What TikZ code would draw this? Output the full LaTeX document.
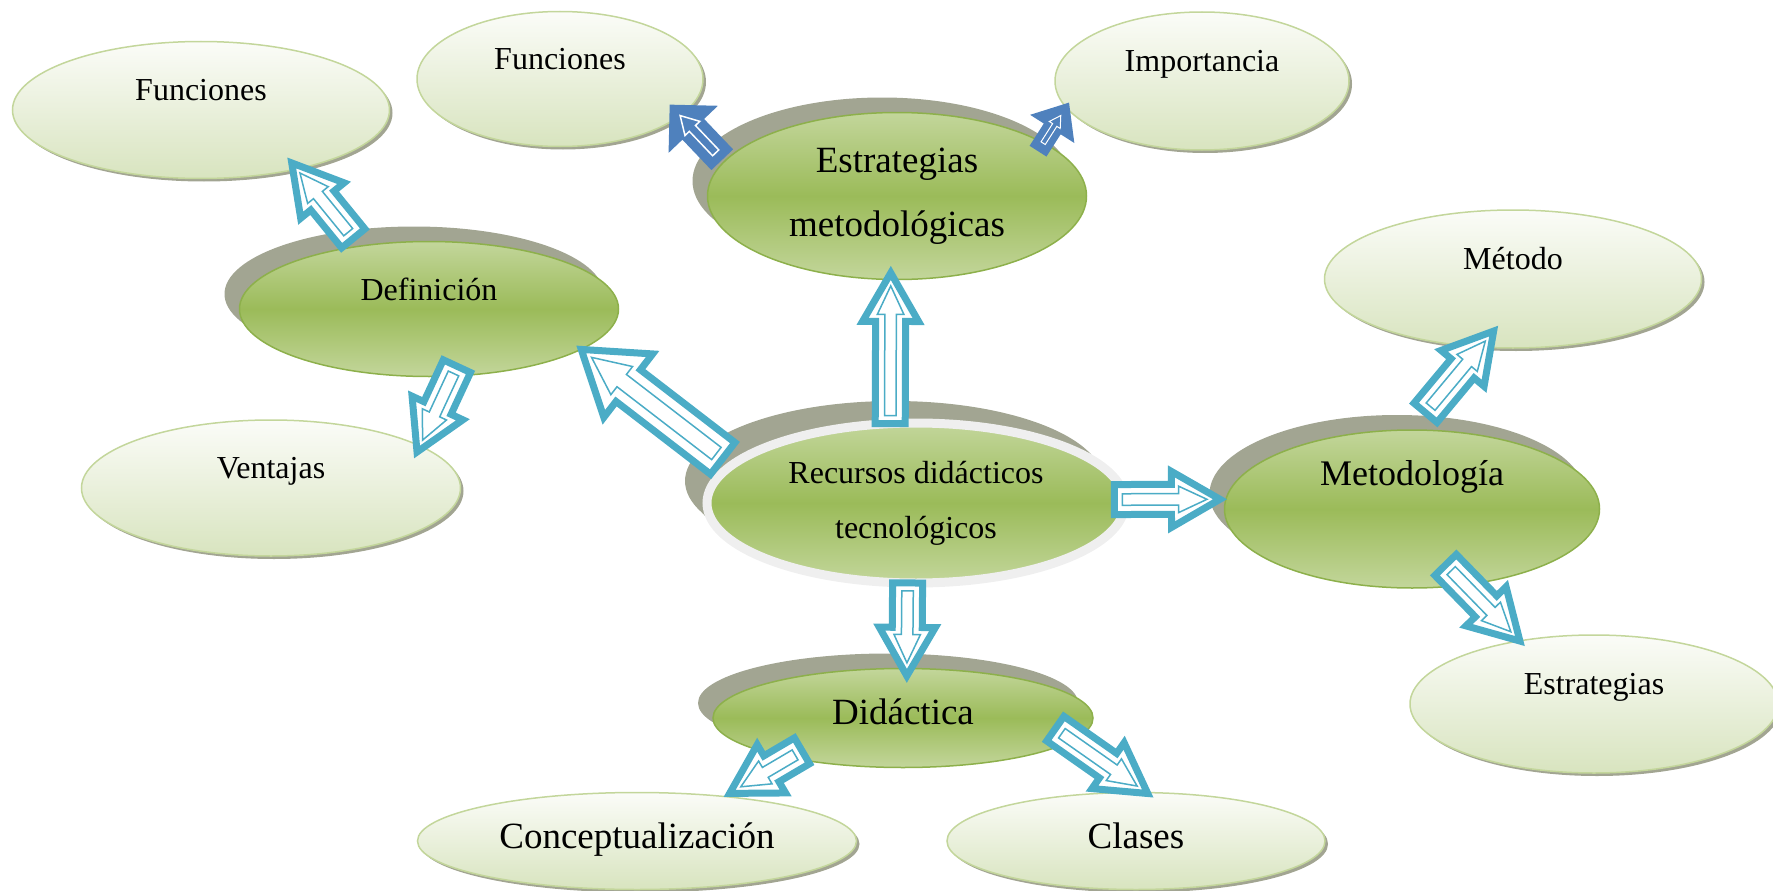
\documentclass[tikz,border=0pt]{standalone}
\usepackage{fontspec}
\setmainfont{Liberation Serif}
\usetikzlibrary{shapes.geometric, shapes.arrows, shadows, calc}

\definecolor{arrowaqua}{HTML}{4BACC6}
\definecolor{arrowblue}{HTML}{4F81BD}
\definecolor{olivegreen}{HTML}{9BBB59}
\definecolor{olivelight}{HTML}{C3D69B}
\definecolor{olivedark}{HTML}{8DB04B}
\definecolor{paletop}{HTML}{FBFCF8}
\definecolor{palegreen}{HTML}{D8E4BF}
\definecolor{hatchgray}{HTML}{A2A592}
\definecolor{ringgray}{HTML}{EFEFEF}

% hollow block arrow from one point to another, #1 = arrow kind
\newcommand{\blockarrow}[3][std]{%
  \path let \p1=#2, \p2=#3,
            \n1={atan2(\y2-\y1,\x2-\x1)}, \n2={veclen(\x2-\x1,\y2-\y1)} in
    node[#1, rotate=\n1, minimum height=\n2-6] at (\p1) {}
    node[#1 in, rotate=\n1, minimum height=\n2-27] at ($(\p1)!8pt!(\p2)$) {};}

\begin{document}
\begin{tikzpicture}[x = 1pt, y = -1pt, % one unit = one pixel, y downwards
                    semithick % line style
                   ]

  \tikzstyle{lightell}=[ellipse, draw = olivelight, line width = 1.5pt,
  top color = paletop, bottom color = palegreen, inner sep = 0pt, outer sep = 0pt,
  drop shadow = {shadow xshift = 3pt, shadow yshift = -3pt, fill = hatchgray, opacity = 1}]
  \tikzstyle{darkell}=[ellipse, draw = olivedark, line width = 1.5pt,
  top color = olivelight, bottom color = olivelight, middle color = olivegreen,
  inner sep = 0pt, outer sep = 0pt, align = center,
  drop shadow = {shadow xshift = -15pt, shadow yshift = 15pt, fill = hatchgray, opacity = 1}]
  \tikzstyle{ltxt}=[anchor = base, inner sep = 0pt, font = \fontsize{32}{38}\selectfont]
  \tikzstyle{mtxt}=[ltxt, font = \fontsize{37}{44}\selectfont]

  % shaft width = 2 x inner ysep, head = shaft + 2 x head extend
  \tikzstyle{arrowbase}=[single arrow, anchor = tail, inner xsep = 0pt, outer sep = 0pt]
  \tikzstyle{std}=[arrowbase, draw = arrowaqua, fill = white, line width = 7pt,
  inner ysep = 11.5pt, single arrow head extend = 13pt, single arrow tip angle = 60]
  \tikzstyle{std in}=[arrowbase, draw = arrowaqua, line width = 1.5pt,
  inner ysep = 5pt, single arrow head extend = 7.5pt, single arrow tip angle = 50]
  \tikzstyle{big}=[std, inner ysep = 16.5pt, single arrow head extend = 20pt,
  single arrow tip angle = 68]
  \tikzstyle{big in}=[std in, inner ysep = 7pt, single arrow head extend = 10pt]
  \tikzstyle{bluemid}=[arrowbase, draw = arrowblue, fill = arrowblue, line width = 3pt,
  inner ysep = 12pt, single arrow head extend = 17pt, single arrow tip angle = 90]
  \tikzstyle{bluemid in}=[arrowbase, draw = white, line width = 1.5pt,
  inner ysep = 3.5pt, single arrow head extend = 6pt, single arrow tip angle = 60]
  \tikzstyle{bluesmall}=[bluemid, inner ysep = 7pt, single arrow head extend = 14.5pt,
  single arrow tip angle = 80]
  \tikzstyle{bluesmall in}=[bluemid in, line width = 1pt, inner ysep = 2pt,
  single arrow head extend = 4pt]

  \useasboundingbox (0,0) rectangle (1773,891);

  % outer ring of topics
  \node[lightell, minimum width = 377, minimum height = 137] (fun1) at (201,110) {};
  \node[lightell, minimum width = 286, minimum height = 135] (fun2) at (560,79) {};
  \node[lightell, minimum width = 294, minimum height = 138] (imp) at (1202,81) {};
  \node[lightell, minimum width = 377, minimum height = 138] (mto) at (1513,279) {};
  \node[lightell, minimum width = 379, minimum height = 136] (ven) at (271,488) {};
  \node[lightell, minimum width = 368, minimum height = 138] (est) at (1594,704) {};
  \node[lightell, minimum width = 439, minimum height = 97] (con) at (637,841) {};
  \node[lightell, minimum width = 378, minimum height = 97] (cla) at (1136,841) {};

  \node[ltxt] (fun1t) at ([yshift = 10pt]fun1.center) {Funciones};
  \node[ltxt] (fun2t) at ([yshift = 9pt]fun2.center) {Funciones};
  \node[ltxt] (impt) at ([yshift = 10pt]imp.center) {Importancia};
  \node[ltxt] (mtot) at ([yshift = 10pt]mto.center) {Método};
  \node[ltxt] (vent) at ([yshift = 10pt]ven.center) {Ventajas};
  \node[ltxt] (estt) at ([yshift = 10pt]est.center) {Estrategias};
  \node[mtxt] (cont) at ([yshift = -7pt]con.center) {Conceptualización};
  \node[mtxt] (clat) at ([yshift = -7pt]cla.center) {Clases};

  % main topics
  \node[darkell, minimum width = 379, minimum height = 167,
        font = \fontsize{37}{64}\selectfont] (estm) at (897,196)
        {Estrategias\\metodológicas};
  \node[darkell, minimum width = 379, minimum height = 135] (def) at (429,309) {};
  \node[darkell, minimum width = 375, minimum height = 158] (met) at (1412,509) {};
  \node[darkell, minimum width = 380, minimum height = 99] (did) at (903,718) {};
  \node[darkell, draw = ringgray, line width = 9pt, minimum width = 418,
        minimum height = 160, font = \fontsize{32}{55}\selectfont,
        drop shadow = {shadow xshift = -22pt, shadow yshift = 22pt, fill = hatchgray,
        opacity = 1}] (rec) at (916,503) {Recursos didácticos\\tecnológicos};

  \node[ltxt] (deft) at ([yshift = 9pt]def.center) {Definición};
  \node[ltxt, font = \fontsize{36}{42}\selectfont] (mett) at ([yshift = 24pt]met.center)
        {Metodología};
  \node[mtxt] (didt) at ([yshift = -6pt]did.center) {Didáctica};

  % arrows
  \blockarrow[big]{($(rec)!1.08!(rec.167)$)}{($(def)!.95!(def.-14)$)}
  \blockarrow{(rec.108)}{($(estm)!.85!(estm.-95)$)}
  \blockarrow{($(rec)!.95!(rec.1)$)}{(met.177)}
  \blockarrow{(rec.-96)}{($(did)!.73!(did.84)$)}
  \blockarrow{($(def)!1.12!(def.137)$)}{($(fun1)!.84!(fun1.-29)$)}
  \blockarrow{($(def)!.86!(def.-64)$)}{($(ven)!.88!(ven.12)$)}
  \blockarrow[bluemid]{($(estm)!1.03!(estm.168)$)}{($(fun2)!.82!(fun2.-12)$)}
  \blockarrow[bluesmall]{($(estm)!.93!(estm.18)$)}{($(imp)!.93!(imp.188)$)}
  \blockarrow{($(met)!1.22!(met.82)$)}{($(mto)!.69!(mto.252)$)}
  \blockarrow{($(met)!.73!(met.-59)$)}{($(est)!.93!(est.140)$)}
  \blockarrow{($(did)!.85!(did.198)$)}{(con.27)}
  \blockarrow{($(did)!.83!(did.-4)$)}{($(cla)!.91!(cla.69)$)}
\end{tikzpicture}
\end{document}
